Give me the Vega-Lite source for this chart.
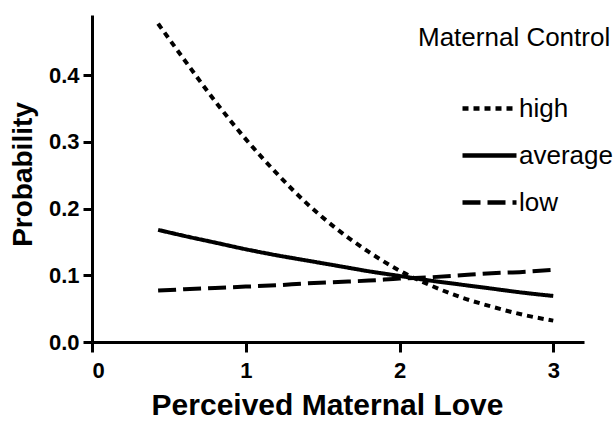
{
  "$schema": "https://vega.github.io/schema/vega-lite/v6.json",
  "autosize": "none",
  "padding": {"left": 92, "top": 15, "right": 30, "bottom": 83},
  "width": 492,
  "height": 327,
  "background": "white",
  "config": {
    "view": {"stroke": null},
    "font": "Liberation Sans",
    "axis": {
      "grid": false,
      "domainColor": "black",
      "domainWidth": 3,
      "tickColor": "black",
      "tickWidth": 3,
      "labelColor": "black",
      "labelFont": "Liberation Sans",
      "labelFontWeight": "bold",
      "labelFontSize": 22,
      "titleColor": "black",
      "titleFont": "Liberation Sans",
      "titleFontWeight": "bold"
    }
  },
  "data": {
    "values": [
      {"love": 0.43, "p": 0.477, "control": "high"},
      {"love": 0.6, "p": 0.423, "control": "high"},
      {"love": 0.8, "p": 0.361, "control": "high"},
      {"love": 1.0, "p": 0.304, "control": "high"},
      {"love": 1.2, "p": 0.253, "control": "high"},
      {"love": 1.4, "p": 0.207, "control": "high"},
      {"love": 1.6, "p": 0.168, "control": "high"},
      {"love": 1.8, "p": 0.135, "control": "high"},
      {"love": 2.0, "p": 0.107, "control": "high"},
      {"love": 2.2, "p": 0.085, "control": "high"},
      {"love": 2.4, "p": 0.067, "control": "high"},
      {"love": 2.6, "p": 0.053, "control": "high"},
      {"love": 2.8, "p": 0.041, "control": "high"},
      {"love": 3.0, "p": 0.032, "control": "high"},
      {"love": 0.43, "p": 0.168, "control": "average"},
      {"love": 0.6, "p": 0.159, "control": "average"},
      {"love": 0.8, "p": 0.149, "control": "average"},
      {"love": 1.0, "p": 0.139, "control": "average"},
      {"love": 1.2, "p": 0.130, "control": "average"},
      {"love": 1.4, "p": 0.122, "control": "average"},
      {"love": 1.6, "p": 0.114, "control": "average"},
      {"love": 1.8, "p": 0.106, "control": "average"},
      {"love": 2.0, "p": 0.099, "control": "average"},
      {"love": 2.2, "p": 0.092, "control": "average"},
      {"love": 2.4, "p": 0.086, "control": "average"},
      {"love": 2.6, "p": 0.080, "control": "average"},
      {"love": 2.8, "p": 0.074, "control": "average"},
      {"love": 3.0, "p": 0.069, "control": "average"},
      {"love": 0.43, "p": 0.077, "control": "low"},
      {"love": 0.6, "p": 0.079, "control": "low"},
      {"love": 0.8, "p": 0.081, "control": "low"},
      {"love": 1.0, "p": 0.083, "control": "low"},
      {"love": 1.2, "p": 0.085, "control": "low"},
      {"love": 1.4, "p": 0.088, "control": "low"},
      {"love": 1.6, "p": 0.090, "control": "low"},
      {"love": 1.8, "p": 0.092, "control": "low"},
      {"love": 2.0, "p": 0.095, "control": "low"},
      {"love": 2.2, "p": 0.097, "control": "low"},
      {"love": 2.4, "p": 0.100, "control": "low"},
      {"love": 2.6, "p": 0.103, "control": "low"},
      {"love": 2.8, "p": 0.105, "control": "low"},
      {"love": 3.0, "p": 0.108, "control": "low"}
    ]
  },
  "mark": {"type": "line", "color": "black", "strokeWidth": 4, "interpolate": "monotone", "strokeCap": "butt"},
  "encoding": {
    "x": {
      "field": "love", "type": "quantitative",
      "scale": {"domain": [0, 3.2], "nice": false, "zero": false},
      "axis": {"values": [0, 1, 2, 3], "format": "d", "tickSize": 10, "labelPadding": 8,
               "title": "Perceived Maternal Love", "titleFontSize": 30, "titlePadding": 9, "titleX": 235, "titleAnchor": "middle"}
    },
    "y": {
      "field": "p", "type": "quantitative",
      "scale": {"domain": [0, 0.49], "nice": false, "zero": false},
      "axis": {"values": [0, 0.1, 0.2, 0.3, 0.4], "format": ".1f", "tickSize": 9, "labelPadding": 4,
               "title": "Probability", "titleFontSize": 28, "titlePadding": 11, "titleY": 159, "titleAnchor": "middle"}
    },
    "strokeDash": {
      "field": "control", "type": "nominal",
      "scale": {"domain": ["high", "average", "low"], "range": [[6, 5], [1, 0], [18, 7]]},
      "legend": {
        "title": "Maternal Control",
        "orient": "none",
        "legendX": 326,
        "legendY": 10,
        "padding": 0,
        "titleFont": "Liberation Sans",
        "titleFontSize": 26,
        "titleFontWeight": "normal",
        "titleColor": "black",
        "titlePadding": 28,
        "titleLimit": 300,
        "symbolType": "stroke",
        "symbolSize": 2916,
        "symbolStrokeWidth": 4.5,
        "symbolStrokeColor": "black",
        "symbolOffset": 42,
        "labelFont": "Liberation Sans",
        "labelFontSize": 26,
        "labelColor": "black",
        "labelOffset": 0,
        "labelLimit": 200,
        "rowPadding": 4
      }
    }
  }
}
